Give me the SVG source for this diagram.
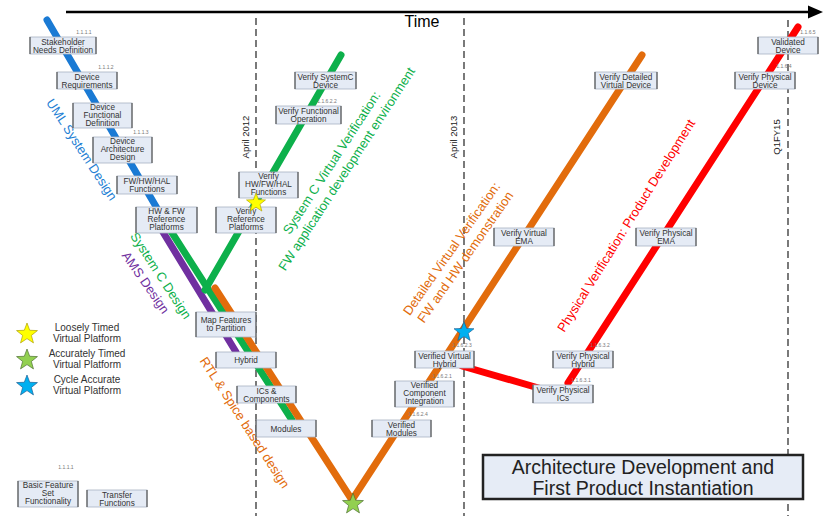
<svg xmlns="http://www.w3.org/2000/svg" width="823" height="516" viewBox="0 0 823 516">
<defs>
<style>
.bx{fill:#e5ebf5;stroke:#a9b2c2;stroke-width:0.8}
.ed{stroke:#555;stroke-width:1.2}
.bt{font-family:"Liberation Sans",Arial,sans-serif;font-size:8.2px;fill:#333;text-anchor:middle}
.num{font-family:"Liberation Sans",Arial,sans-serif;font-size:5px;fill:#777;text-anchor:middle}
.dash{stroke:#333;stroke-width:1.3;stroke-dasharray:7 4;fill:none}
.ln{fill:none;stroke-width:7;stroke-linecap:round}
.rl{font-family:"Liberation Sans",Arial,sans-serif;font-size:13px;text-anchor:middle}
.dl{font-family:"Liberation Sans",Arial,sans-serif;font-size:9.5px;fill:#222;text-anchor:middle}
.lg{font-family:"Liberation Sans",Arial,sans-serif;font-size:10px;fill:#333;text-anchor:middle}
.tt{font-family:"Liberation Sans",Arial,sans-serif;font-size:19.5px;fill:#222;text-anchor:middle}
</style>
<polygon id="star" points="0,-10 2.47,-3.4 9.51,-3.09 3.99,1.3 5.88,8.09 0,4.2 -5.88,8.09 -3.99,1.3 -9.51,-3.09 -2.47,-3.4"/>
</defs>
<rect width="823" height="516" fill="#fff"/>

<!-- time axis -->
<g id="time-axis">
<line x1="66" y1="12" x2="810" y2="12" stroke="#000" stroke-width="2.5"/>
<polygon points="808,5.5 823,12 808,18.5" fill="#000"/>
<text x="422" y="27" font-family="Liberation Sans,Arial,sans-serif" font-size="16" text-anchor="middle" fill="#000">Time</text>
</g>

<!-- date markers -->
<g id="markers">
<line class="dash" x1="256" y1="18" x2="256" y2="516"/>
<line class="dash" x1="464" y1="18" x2="464" y2="516"/>
<line class="dash" x1="788" y1="20" x2="788" y2="516"/>
<text class="dl" transform="translate(249,137) rotate(-90)">April 2012</text>
<text class="dl" transform="translate(457,137) rotate(-90)">April 2013</text>
<text class="dl" transform="translate(780,137) rotate(-90)">Q1FY15</text>
</g>

<!-- connectors -->
<g id="connectors">
<line class="ln" stroke="#1a7ad4" x1="47" y1="20" x2="158" y2="210"/>
<line class="ln" stroke="#7030a0" x1="152" y1="214" x2="236" y2="352"/>
<line class="ln" stroke="#0db04b" x1="160" y1="214" x2="292" y2="420"/>
<line class="ln" stroke="#0db04b" x1="205" y1="290" x2="341" y2="55"/>
<line class="ln" stroke="#e26c0c" x1="215" y1="288" x2="352" y2="500"/>
<line class="ln" stroke="#e26c0c" x1="352" y1="500" x2="642" y2="55"/>
<line class="ln" stroke="#ff0000" x1="798" y1="27" x2="568" y2="383"/>
<line class="ln" stroke="#ff0000" stroke-width="6" x1="462" y1="366" x2="542" y2="389"/>
</g>

<!-- phase labels -->
<g id="phase-labels">
<text class="rl" fill="#1f7fd4" transform="translate(78,152) rotate(57)">UML System Design</text>
<text class="rl" fill="#0db04b" transform="translate(157,278) rotate(57)">System C Design</text>
<text class="rl" fill="#7030a0" transform="translate(142,285) rotate(55)">AMS Design</text>
<text class="rl" fill="#e26c0c" transform="translate(241,425) rotate(57)">RTL &amp; Spice based design</text>
<g transform="translate(332,163) rotate(-57)">
<text class="rl" fill="#0db04b" x="0" y="4">System C Virtual Verification:</text>
<text class="rl" fill="#0db04b" x="3" y="20">FW application development environment</text>
</g>
<g transform="translate(452,249) rotate(-55)">
<text class="rl" fill="#e26c0c" x="0" y="4">Detailed Virtual Verification:</text>
<text class="rl" fill="#e26c0c" x="1" y="20">FW and HW demonstration</text>
</g>
<text class="rl" fill="#ff0000" transform="translate(630,228) rotate(-58)">Physical Verification:  Product Development</text>
</g>

<!-- nodes -->
<g id="n-stakeholder"><rect class="bx" x="30" y="37" width="66" height="17"/><line class="ed" x1="30" y1="37" x2="30" y2="54"/><line class="ed" x1="96" y1="37" x2="96" y2="54"/><text class="bt" x="63" y="44.5">Stakeholder</text><text class="bt" x="63" y="52.5">Needs Definition</text><text class="num" x="84" y="34">1.1.1.1</text></g>
<g id="n-dev-req"><rect class="bx" x="57" y="72" width="60" height="17"/><line class="ed" x1="57" y1="72" x2="57" y2="89"/><line class="ed" x1="117" y1="72" x2="117" y2="89"/><text class="bt" x="87" y="79.5">Device</text><text class="bt" x="87" y="87.5">Requirements</text><text class="num" x="106" y="69">1.1.1.2</text></g>
<g id="n-dev-func"><rect class="bx" x="73" y="103" width="59" height="25"/><line class="ed" x1="73" y1="103" x2="73" y2="128"/><line class="ed" x1="132" y1="103" x2="132" y2="128"/><text class="bt" x="102.5" y="110">Device</text><text class="bt" x="102.5" y="118">Functional</text><text class="bt" x="102.5" y="126">Definition</text></g>
<g id="n-dev-arch"><rect class="bx" x="93" y="137" width="59" height="26"/><line class="ed" x1="93" y1="137" x2="93" y2="163"/><line class="ed" x1="152" y1="137" x2="152" y2="163"/><text class="bt" x="122.5" y="144">Device</text><text class="bt" x="122.5" y="152">Architecture</text><text class="bt" x="122.5" y="160">Design</text><text class="num" x="141" y="134">1.1.1.3</text></g>
<g id="n-fwhwhal"><rect class="bx" x="117" y="176" width="60" height="18"/><line class="ed" x1="117" y1="176" x2="117" y2="194"/><line class="ed" x1="177" y1="176" x2="177" y2="194"/><text class="bt" x="147" y="183.5">FW/HW/HAL</text><text class="bt" x="147" y="191.5">Functions</text></g>
<g id="n-hwfw-ref"><rect class="bx" x="136" y="207" width="61" height="26"/><line class="ed" x1="136" y1="207" x2="136" y2="233"/><line class="ed" x1="197" y1="207" x2="197" y2="233"/><text class="bt" x="166.5" y="214">HW &amp; FW</text><text class="bt" x="166.5" y="222">Reference</text><text class="bt" x="166.5" y="230">Platforms</text></g>
<g id="n-verify-ref"><rect class="bx" x="216" y="207" width="60" height="26"/><line class="ed" x1="216" y1="207" x2="216" y2="233"/><line class="ed" x1="276" y1="207" x2="276" y2="233"/><text class="bt" x="246" y="214">Verify</text><text class="bt" x="246" y="222">Reference</text><text class="bt" x="246" y="230">Platforms</text></g>
<g id="n-verify-hwfwhal"><rect class="bx" x="239" y="172" width="59" height="26"/><line class="ed" x1="239" y1="172" x2="239" y2="198"/><line class="ed" x1="298" y1="172" x2="298" y2="198"/><text class="bt" x="268.5" y="179">Verify</text><text class="bt" x="268.5" y="187">HW/FW/HAL</text><text class="bt" x="268.5" y="195">Functions</text></g>
<g id="n-verify-func"><rect class="bx" x="276" y="106" width="65" height="18"/><line class="ed" x1="276" y1="106" x2="276" y2="124"/><line class="ed" x1="341" y1="106" x2="341" y2="124"/><text class="bt" x="308.5" y="113.5">Verify Functional</text><text class="bt" x="308.5" y="121.5">Operation</text><text class="num" x="327" y="103">1.1.6.2.2</text></g>
<g id="n-verify-systemc"><rect class="bx" x="295" y="72" width="61" height="17"/><line class="ed" x1="295" y1="72" x2="295" y2="89"/><line class="ed" x1="356" y1="72" x2="356" y2="89"/><text class="bt" x="325.5" y="79.5">Verify SystemC</text><text class="bt" x="325.5" y="87.5">Device</text></g>
<g id="n-map-features"><rect class="bx" x="196" y="312" width="60" height="25"/><line class="ed" x1="196" y1="312" x2="196" y2="337"/><line class="ed" x1="256" y1="312" x2="256" y2="337"/><text class="bt" x="226" y="323">Map Features</text><text class="bt" x="226" y="331">to Partition</text></g>
<g id="n-hybrid"><rect class="bx" x="216" y="352" width="60" height="16"/><line class="ed" x1="216" y1="352" x2="216" y2="368"/><line class="ed" x1="276" y1="352" x2="276" y2="368"/><text class="bt" x="246" y="363">Hybrid</text></g>
<g id="n-ics"><rect class="bx" x="237" y="386" width="59" height="17"/><line class="ed" x1="237" y1="386" x2="237" y2="403"/><line class="ed" x1="296" y1="386" x2="296" y2="403"/><text class="bt" x="266.5" y="393.5">ICs &amp;</text><text class="bt" x="266.5" y="401.5">Components</text></g>
<g id="n-modules"><rect class="bx" x="256" y="420" width="60" height="17"/><line class="ed" x1="256" y1="420" x2="256" y2="437"/><line class="ed" x1="316" y1="420" x2="316" y2="437"/><text class="bt" x="286" y="431.5">Modules</text></g>
<g id="n-verified-modules"><rect class="bx" x="372" y="420" width="59" height="17"/><line class="ed" x1="372" y1="420" x2="372" y2="437"/><line class="ed" x1="431" y1="420" x2="431" y2="437"/><text class="bt" x="401.5" y="427.5">Verified</text><text class="bt" x="401.5" y="435.5">Modules</text><text class="num" x="418" y="416">1.1.6.2.4</text></g>
<g id="n-verified-comp"><rect class="bx" x="395" y="381" width="59" height="26"/><line class="ed" x1="395" y1="381" x2="395" y2="407"/><line class="ed" x1="454" y1="381" x2="454" y2="407"/><text class="bt" x="424.5" y="388">Verified</text><text class="bt" x="424.5" y="396">Component</text><text class="bt" x="424.5" y="404">Integration</text><text class="num" x="442" y="378">1.1.6.2.1</text></g>
<g id="n-verified-virtual-hybrid"><rect class="bx" x="415" y="351" width="59" height="17"/><line class="ed" x1="415" y1="351" x2="415" y2="368"/><line class="ed" x1="474" y1="351" x2="474" y2="368"/><text class="bt" x="444.5" y="358.5">Verified Virtual</text><text class="bt" x="444.5" y="366.5">Hybrid</text><text class="num" x="462" y="347">1.1.6.2.3</text></g>
<g id="n-verify-phys-ics"><rect class="bx" x="533" y="385" width="60" height="18"/><line class="ed" x1="533" y1="385" x2="533" y2="403"/><line class="ed" x1="593" y1="385" x2="593" y2="403"/><text class="bt" x="563" y="392.5">Verify Physical</text><text class="bt" x="563" y="400.5">ICs</text><text class="num" x="581" y="382">1.1.6.3.1</text></g>
<g id="n-verify-phys-hybrid"><rect class="bx" x="553" y="351" width="60" height="17"/><line class="ed" x1="553" y1="351" x2="553" y2="368"/><line class="ed" x1="613" y1="351" x2="613" y2="368"/><text class="bt" x="583" y="358.5">Verify Physical</text><text class="bt" x="583" y="366.5">Hybrid</text><text class="num" x="600" y="347">1.1.6.3.2</text></g>
<g id="n-verify-virtual-ema"><rect class="bx" x="494" y="228" width="60" height="18"/><line class="ed" x1="494" y1="228" x2="494" y2="246"/><line class="ed" x1="554" y1="228" x2="554" y2="246"/><text class="bt" x="524" y="235.5">Verify Virtual</text><text class="bt" x="524" y="243.5">EMA</text></g>
<g id="n-verify-phys-ema"><rect class="bx" x="636" y="228" width="60" height="18"/><line class="ed" x1="636" y1="228" x2="636" y2="246"/><line class="ed" x1="696" y1="228" x2="696" y2="246"/><text class="bt" x="666" y="235.5">Verify Physical</text><text class="bt" x="666" y="243.5">EMA</text></g>
<g id="n-verify-detailed"><rect class="bx" x="595" y="72" width="62" height="17"/><line class="ed" x1="595" y1="72" x2="595" y2="89"/><line class="ed" x1="657" y1="72" x2="657" y2="89"/><text class="bt" x="626" y="79.5">Verify Detailed</text><text class="bt" x="626" y="87.5">Virtual Device</text></g>
<g id="n-verify-phys-device"><rect class="bx" x="735" y="72" width="60" height="17"/><line class="ed" x1="735" y1="72" x2="735" y2="89"/><line class="ed" x1="795" y1="72" x2="795" y2="89"/><text class="bt" x="765" y="79.5">Verify Physical</text><text class="bt" x="765" y="87.5">Device</text><text class="num" x="784" y="68">1.1.6.4</text></g>
<g id="n-validated"><rect class="bx" x="758" y="37" width="60" height="17"/><line class="ed" x1="758" y1="37" x2="758" y2="54"/><line class="ed" x1="818" y1="37" x2="818" y2="54"/><text class="bt" x="788" y="44.5">Validated</text><text class="bt" x="788" y="52.5">Device</text><text class="num" x="808" y="34">1.1.6.5</text></g>
<g id="n-basic"><rect class="bx" x="18" y="481" width="60" height="26"/><line class="ed" x1="18" y1="481" x2="18" y2="507"/><line class="ed" x1="78" y1="481" x2="78" y2="507"/><text class="bt" x="48" y="488">Basic Feature</text><text class="bt" x="48" y="496">Set</text><text class="bt" x="48" y="504">Functionality</text><text class="num" x="66" y="469">1.1.1.1</text></g>
<g id="n-transfer"><rect class="bx" x="87" y="490" width="60" height="17"/><line class="ed" x1="87" y1="490" x2="87" y2="507"/><line class="ed" x1="147" y1="490" x2="147" y2="507"/><text class="bt" x="117" y="497.5">Transfer</text><text class="bt" x="117" y="505.5">Functions</text></g>

<!-- stars -->
<g id="stars">
<use href="#star" transform="translate(256,203)" fill="#ffff00" stroke="#a89a00" stroke-width="0.6"/>
<use href="#star" transform="translate(464,332) scale(1.05)" fill="#00b0f0" stroke="#1a5a90" stroke-width="0.6"/>
<use href="#star" transform="translate(353,504) scale(1.1)" fill="#92d050" stroke="#4a6a30" stroke-width="0.6"/>
</g>

<!-- legend -->
<g id="legend">
<use href="#star" transform="translate(27,334) scale(1.1)" fill="#ffff00" stroke="#a89a00" stroke-width="0.6"/>
<use href="#star" transform="translate(27,360) scale(1.1)" fill="#92d050" stroke="#4a6a30" stroke-width="0.6"/>
<use href="#star" transform="translate(27,386) scale(1.1)" fill="#00b0f0" stroke="#1a5a90" stroke-width="0.6"/>
<text class="lg" x="87" y="331">Loosely Timed</text>
<text class="lg" x="87" y="341.5">Virtual Platform</text>
<text class="lg" x="87" y="357">Accurately Timed</text>
<text class="lg" x="87" y="367.5">Virtual Platform</text>
<text class="lg" x="87" y="383">Cycle Accurate</text>
<text class="lg" x="87" y="393.5">Virtual Platform</text>
</g>

<!-- title -->
<g id="title">
<rect x="483" y="455" width="320" height="44" fill="#e6ecf6" stroke="#222" stroke-width="2.5"/>
<text class="tt" x="643" y="473.5">Architecture Development and</text>
<text class="tt" x="643" y="494.5">First Product Instantiation</text>
</g>
</svg>
